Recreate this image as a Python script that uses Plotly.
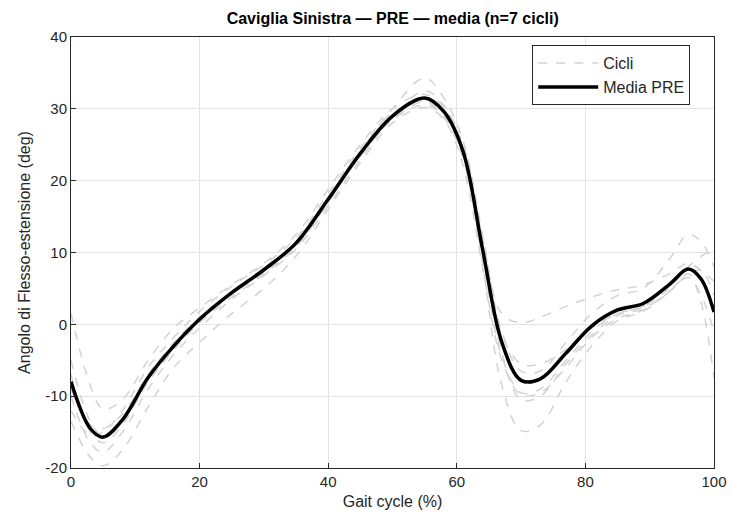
import plotly.graph_objects as go

# Gait cycle sample points (%)
gait_pct = [0, 3, 5, 8, 12, 16, 20, 25, 30, 35, 40, 45, 50, 55, 58, 61, 64, 67, 70, 73, 77, 81, 85, 89, 93, 96, 98, 100]

# Individual cycles (deg)
cycle_1 = [1.5, -8.5, -11.8, -10.5, -5.0, -0.5, 2.3, 5.5, 8.5, 12.5, 18.8, 25.0, 30.0, 32.0, 30.2, 25.0, 12.0, 1.5, 0.2, 1.0, 2.5, 3.8, 4.8, 5.5, 7.0, 8.5, 7.5, 6.0]
cycle_2 = [-13.5, -18.5, -19.7, -17.5, -11.5, -6.0, -2.5, 1.5, 5.0, 9.5, 16.0, 22.5, 28.0, 30.2, 28.5, 22.0, 8.0, -5.0, -9.8, -9.5, -6.0, -1.8, 0.8, 2.0, 4.5, 6.5, 4.0, -1.0]
cycle_3 = [-10.0, -16.5, -17.8, -15.0, -9.0, -4.2, -0.5, 3.5, 6.8, 10.5, 16.5, 23.0, 28.8, 32.5, 30.5, 24.5, 8.5, -8.5, -14.8, -14.0, -8.0, -3.0, 0.5, 1.8, 4.5, 7.0, 3.0, -7.5]
cycle_4 = [-5.0, -13.5, -15.5, -13.5, -8.0, -3.5, 0.5, 4.2, 7.2, 10.8, 17.0, 24.0, 30.0, 34.3, 31.5, 25.5, 12.5, -1.0, -6.5, -6.5, -2.5, 1.5, 4.0, 5.0, 9.0, 12.5, 11.5, 8.0]
cycle_5 = [-7.0, -15.0, -16.5, -14.0, -8.0, -3.5, 0.2, 3.8, 7.0, 10.8, 17.2, 23.5, 28.5, 31.0, 29.5, 24.5, 11.0, -4.0, -10.5, -10.0, -5.5, -1.5, 1.2, 2.2, 4.5, 7.0, 7.5, 4.0]
cycle_6 = [-12.0, -15.5, -15.0, -12.0, -6.0, -1.8, 1.8, 5.3, 8.3, 12.0, 18.2, 24.5, 29.5, 31.0, 28.8, 23.0, 9.5, -4.5, -9.5, -9.0, -5.0, -1.0, 1.5, 2.5, 5.0, 8.0, 9.5, 10.5]
cycle_7 = [-9.0, -14.0, -14.5, -12.5, -7.0, -2.5, 1.0, 4.5, 7.8, 11.5, 17.5, 23.5, 28.5, 30.5, 29.0, 24.0, 11.0, -1.5, -5.5, -5.5, -3.5, -0.5, 1.5, 2.5, 5.5, 7.5, 6.0, 2.5]

# Mean curve (deg)
mean_pre = [-8.0, -14.5, -15.7, -13.3, -7.4, -3.0, 0.7, 4.4, 7.6, 11.3, 17.4, 23.8, 29.0, 31.5, 29.6, 24.0, 10.5, -2.5, -7.8, -7.6, -4.0, -0.2, 2.0, 2.9, 5.5, 7.7, 6.3, 1.7]

cycles = [cycle_1, cycle_2, cycle_3, cycle_4, cycle_5, cycle_6, cycle_7]

x_ticks = [0, 20, 40, 60, 80, 100]
y_ticks = [-20, -10, 0, 10, 20, 30, 40]

FONT = "Liberation Sans, Arial, sans-serif"
TXT = "#262626"

fig = go.Figure()

for i, c in enumerate(cycles):
    fig.add_trace(go.Scatter(
        x=gait_pct, y=c, mode="lines", name="Cicli",
        legendgroup="cicli", showlegend=(i == 0),
        line=dict(color="#d3d3d3", width=1.5, dash="dash", shape="spline", smoothing=1.0),
    ))

fig.add_trace(go.Scatter(
    x=gait_pct, y=mean_pre, mode="lines", name="Media PRE",
    line=dict(color="black", width=3.5, shape="spline", smoothing=1.0),
))

axis_common = dict(
    showline=True, linecolor=TXT, linewidth=1, mirror=True,
    showgrid=True, gridcolor="#e3e3e3", gridwidth=1,
    ticks="inside", ticklen=5, tickcolor=TXT,
    tickfont=dict(family=FONT, size=15, color=TXT),
    zeroline=False, automargin=False,
)

fig.update_layout(
    width=732, height=524,
    margin=dict(l=71, r=18, t=37, b=56, autoexpand=False),
    paper_bgcolor="white", plot_bgcolor="white",
    font=dict(family=FONT, color=TXT),
    title=dict(
        text="<b>Caviglia Sinistra — PRE — media (n=7 cicli)</b>",
        x=0.5365, xanchor="center", y=0.965, yanchor="middle",
        font=dict(family=FONT, size=16, color="black"),
    ),
    xaxis=dict(range=[0, 100], tickvals=x_ticks, ticktext=[str(v) for v in x_ticks],
               title=dict(text="Gait cycle (%)", font=dict(family=FONT, size=16, color=TXT), standoff=6),
               **axis_common),
    yaxis=dict(range=[-20, 40], tickvals=y_ticks, ticktext=[str(v) for v in y_ticks],
               title=dict(text="Angolo di Flesso-estensione (deg)", font=dict(family=FONT, size=16, color=TXT), standoff=10),
               **axis_common),
    legend=dict(
        x=0.963, xanchor="right", y=0.981, yanchor="top",
        bgcolor="white", bordercolor=TXT, borderwidth=1,
        font=dict(family=FONT, size=16, color=TXT),
        tracegroupgap=0, itemwidth=60,
    ),
    showlegend=True,
)

fig.write_html("out.html")
